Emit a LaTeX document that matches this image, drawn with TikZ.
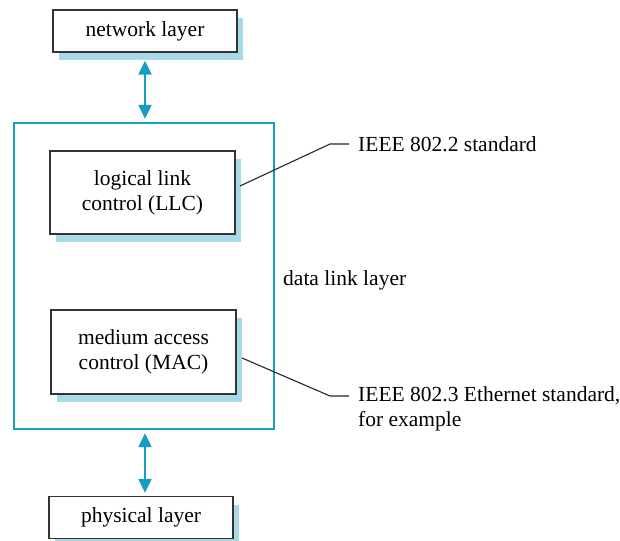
\documentclass[tikz,border=0pt]{standalone}
\usepackage{fontspec}
\setmainfont{Liberation Serif}
\usetikzlibrary{arrows.meta,shadows}
\definecolor{teal1}{HTML}{169DC2}
\definecolor{shadowblue}{HTML}{A8D9E6}
\definecolor{boxline}{HTML}{333333}
\tikzset{
  layerbox/.style={draw=boxline, line width=1.3pt, fill=white, align=center,
    drop shadow={shadow xshift=6pt, shadow yshift=-8pt, fill=shadowblue, opacity=1}},
  outerbox/.style={draw=teal1, line width=2.4pt, inner sep=0pt},
  duplex/.style={teal1, line width=2.2pt, {Triangle[width=13pt,length=14pt]}-{Triangle[width=13pt,length=14pt]}},
  callout/.style={line width=1.1pt, black!85},
  lbl/.style={inner sep=0pt, align=left}
}
\begin{document}
\begin{tikzpicture}[x=1pt,y=-1pt,font=\fontsize{21.5}{25}\selectfont]
\useasboundingbox (0,0) rectangle (620,540);
\node[outerbox, minimum width=260pt, minimum height=306pt] (outer) at (144,276) {};
\node[layerbox, minimum width=184pt, minimum height=42pt] (net) at (145,31) {network layer};
\node[layerbox, minimum width=185pt, minimum height=83pt] (llc) at (142.5,192.5) {logical link\\control (LLC)};
\node[layerbox, minimum width=185pt, minimum height=84pt] (mac) at (143.5,352) {medium access\\control (MAC)};
\node[layerbox, minimum width=184pt, minimum height=42pt] (phy) at (141,517.5) {physical layer};
\draw[duplex, shorten <=8pt, shorten >=3pt] (net.south) -- (net.south |- outer.north);
\draw[duplex, shorten <=3pt, shorten >=3pt] (outer.south -| net.south) -- (net.south |- phy.north);
\node[lbl, anchor=base west] (dll) at (283,285) {data link layer};
\node[lbl, anchor=base west] (s1) at (358,152) {IEEE 802.2 standard};
\node[lbl, anchor=north west] (s2) at (358,386) {IEEE 802.3 Ethernet standard,\\for example};
\coordinate (a1) at (240,186);
\coordinate (k1) at (330,144);
\coordinate (e1) at (349,144);
\coordinate (a2) at (242,358);
\coordinate (k2) at (330,396);
\coordinate (e2) at (349,396);
\draw[callout] (a1) -- (k1) -- (e1);
\draw[callout] (a2) -- (k2) -- (e2);
\end{tikzpicture}
\end{document}
